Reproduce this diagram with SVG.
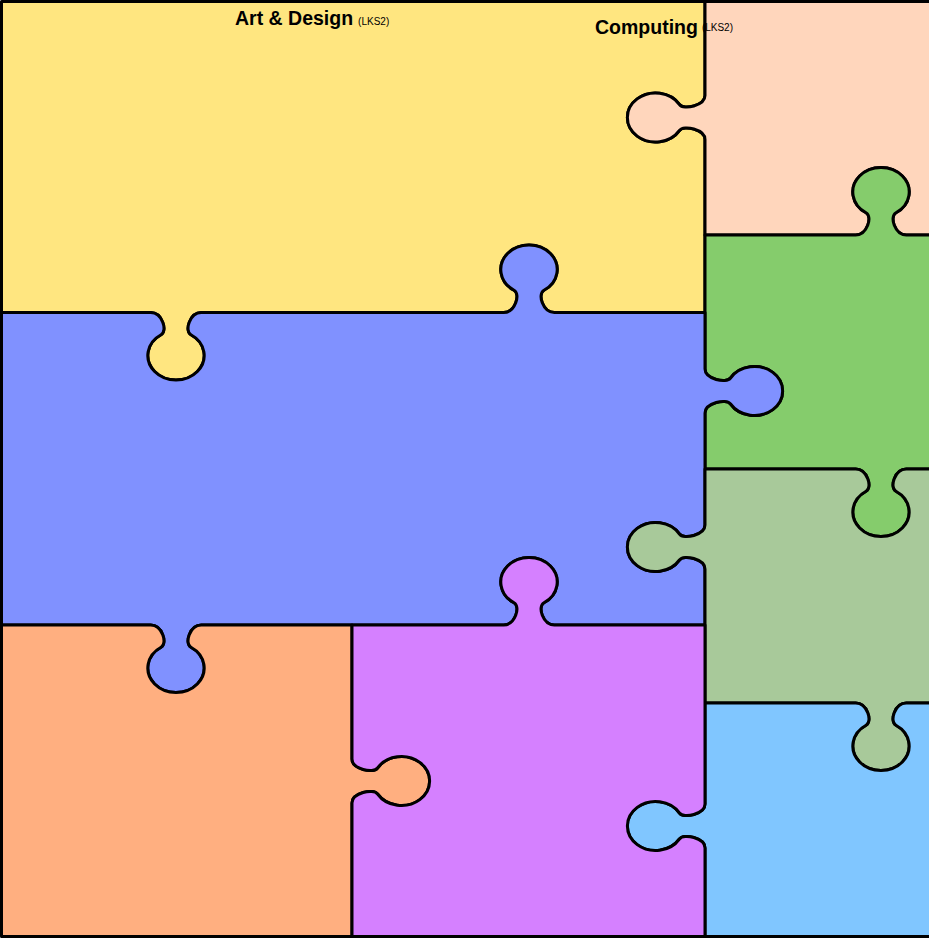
<svg xmlns="http://www.w3.org/2000/svg" width="929" height="938" viewBox="0 0 929 938">
<style>
.pc{stroke:#000;stroke-width:3;stroke-linejoin:round}
.t1{font-family:"Liberation Sans",Arial,sans-serif;font-weight:bold;font-size:19.5px;fill:#000}
.t2{font-family:"Liberation Sans",Arial,sans-serif;font-size:10px;fill:#000}
</style>
<rect width="929" height="938" fill="#fff"/>
<g id="yellow"><path class="pc" fill="#FFE680" d="M 1.5 1.5 L 705 1.5 L 705 95.5 C 705 105.5 683.72 110.4 679.44 104.5 A 28.18 24.5 0 1 0 679.44 130.5 C 683.72 124.6 705 129.5 705 139.5 L 705 312.5 L 554.3 312.5 C 542.8 312.5 537.17 294 543.95 290.27 A 28.18 24.5 0 1 0 514.05 290.27 C 520.83 294 515.2 312.5 503.7 312.5 L 201.3 312.5 C 189.8 312.5 184.17 331 190.95 334.73 A 28.18 24.5 0 1 1 161.05 334.73 C 167.83 331 162.2 312.5 150.7 312.5 L 1.5 312.5 Z"/></g>
<g id="peach"><path class="pc" fill="#FFD6BC" d="M 705 1.5 L 932 1.5 L 932 235 L 906.3 235 C 894.8 235 889.17 216.5 895.95 212.77 A 28.18 24.5 0 1 0 866.05 212.77 C 872.83 216.5 867.2 235 855.7 235 L 705 235 L 705 139.5 C 705 129.5 683.72 124.6 679.44 130.5 A 28.18 24.5 0 1 1 679.44 104.5 C 683.72 110.4 705 105.5 705 95.5 Z"/></g>
<g id="green"><path class="pc" fill="#85CC6C" d="M 705 235 L 855.7 235 C 867.2 235 872.83 216.5 866.05 212.77 A 28.18 24.5 0 1 1 895.95 212.77 C 889.17 216.5 894.8 235 906.3 235 L 932 235 L 932 469 L 906.3 469 C 894.8 469 889.17 487.5 895.95 491.23 A 28.18 24.5 0 1 1 866.05 491.23 C 872.83 487.5 867.2 469 855.7 469 L 705 469 L 705 413 C 705 403 726.28 398.1 730.56 404 A 28.18 24.5 0 1 0 730.56 378 C 726.28 383.9 705 379 705 369 Z"/></g>
<g id="blue"><path class="pc" fill="#8091FF" d="M 1.5 312.5 L 150.7 312.5 C 162.2 312.5 167.83 331 161.05 334.73 A 28.18 24.5 0 1 0 190.95 334.73 C 184.17 331 189.8 312.5 201.3 312.5 L 503.7 312.5 C 515.2 312.5 520.83 294 514.05 290.27 A 28.18 24.5 0 1 1 543.95 290.27 C 537.17 294 542.8 312.5 554.3 312.5 L 705 312.5 L 705 369 C 705 379 726.28 383.9 730.56 378 A 28.18 24.5 0 1 1 730.56 404 C 726.28 398.1 705 403 705 413 L 705 525 C 705 535 683.72 539.9 679.44 534 A 28.18 24.5 0 1 0 679.44 560 C 683.72 554.1 705 559 705 569 L 705 625 L 554.3 625 C 542.8 625 537.17 606.5 543.95 602.77 A 28.18 24.5 0 1 0 514.05 602.77 C 520.83 606.5 515.2 625 503.7 625 L 201.3 625 C 189.8 625 184.17 643.5 190.95 647.23 A 28.18 24.5 0 1 1 161.05 647.23 C 167.83 643.5 162.2 625 150.7 625 L 1.5 625 Z"/></g>
<g id="sage"><path class="pc" fill="#A8C99A" d="M 705 469 L 855.7 469 C 867.2 469 872.83 487.5 866.05 491.23 A 28.18 24.5 0 1 0 895.95 491.23 C 889.17 487.5 894.8 469 906.3 469 L 932 469 L 932 703 L 906.3 703 C 894.8 703 889.17 721.5 895.95 725.23 A 28.18 24.5 0 1 1 866.05 725.23 C 872.83 721.5 867.2 703 855.7 703 L 705 703 L 705 569 C 705 559 683.72 554.1 679.44 560 A 28.18 24.5 0 1 1 679.44 534 C 683.72 539.9 705 535 705 525 Z"/></g>
<g id="lightblue"><path class="pc" fill="#80C6FF" d="M 705 703 L 855.7 703 C 867.2 703 872.83 721.5 866.05 725.23 A 28.18 24.5 0 1 0 895.95 725.23 C 889.17 721.5 894.8 703 906.3 703 L 932 703 L 932 936.5 L 705 936.5 L 705 848 C 705 838 683.72 833.1 679.44 839 A 28.18 24.5 0 1 1 679.44 813 C 683.72 818.9 705 814 705 804 Z"/></g>
<g id="orange"><path class="pc" fill="#FFAF80" d="M 1.5 625 L 150.7 625 C 162.2 625 167.83 643.5 161.05 647.23 A 28.18 24.5 0 1 0 190.95 647.23 C 184.17 643.5 189.8 625 201.3 625 L 352 625 L 352 759 C 352 769 373.28 773.9 377.56 768 A 28.18 24.5 0 1 1 377.56 794 C 373.28 788.1 352 793 352 803 L 352 936.5 L 1.5 936.5 Z"/></g>
<g id="purple"><path class="pc" fill="#D580FF" d="M 352 625 L 503.7 625 C 515.2 625 520.83 606.5 514.05 602.77 A 28.18 24.5 0 1 1 543.95 602.77 C 537.17 606.5 542.8 625 554.3 625 L 705 625 L 705 804 C 705 814 683.72 818.9 679.44 813 A 28.18 24.5 0 1 0 679.44 839 C 683.72 833.1 705 838 705 848 L 705 936.5 L 352 936.5 L 352 803 C 352 793 373.28 788.1 377.56 794 A 28.18 24.5 0 1 0 377.56 768 C 373.28 773.9 352 769 352 759 Z"/></g>
<g id="labels">
<text x="235" y="24.5"><tspan class="t1">Art &amp; Design</tspan><tspan class="t2" dx="5">(LKS2)</tspan></text>
<text x="595" y="34"><tspan class="t1">Computing</tspan><tspan class="t2" dx="4" dy="-3">(LKS2)</tspan></text>
</g>
</svg>
